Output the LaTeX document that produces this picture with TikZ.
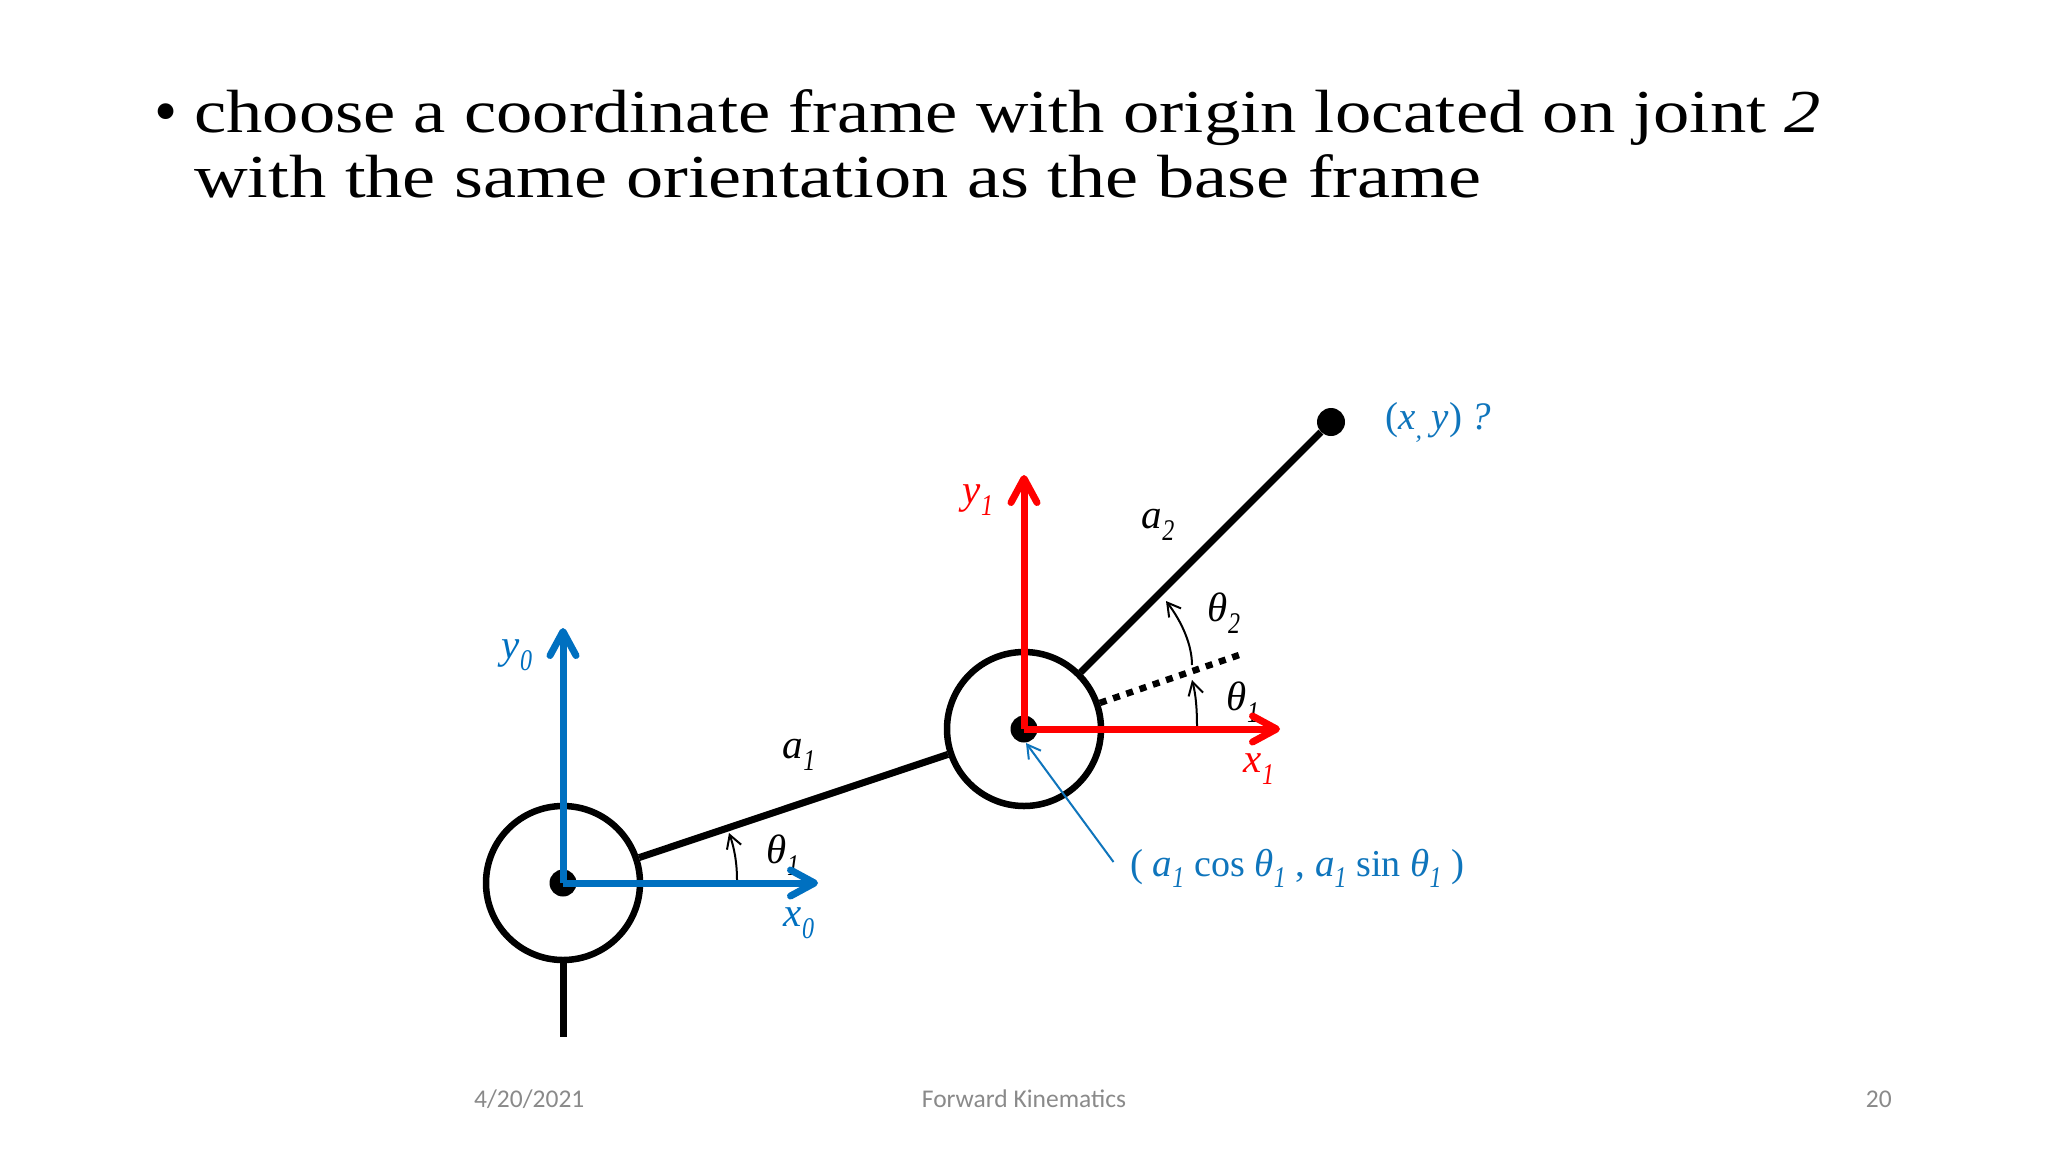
\documentclass[tikz,border=0pt]{standalone}
\usepackage{fontspec}
\usetikzlibrary{arrows.meta}
\setmainfont{Liberation Serif}
\newfontfamily\titlefonta[FakeStretch=1.19]{Liberation Serif}
\newfontfamily\titlefontb[FakeStretch=1.22]{Liberation Serif}
\newfontfamily\footfont{Carlito}
\definecolor{frameblue}{HTML}{0070C0}
\definecolor{textblue}{HTML}{0F75BC}
\definecolor{footgray}{HTML}{8A8A8A}
\newcommand{\fs}[1]{\fontsize{#1}{#1}\selectfont}
\newcommand{\sbs}[1]{\raisebox{-0.3em}{\scalebox{0.8}[1]{\fs{30}\itshape #1}}}
\tikzset{
  x=1pt,y=-1pt,
  joint/.style={circle,draw=black,line width=6.5pt,minimum size=154pt,inner sep=0pt,fill=none},
  pin/.style={circle,fill=black,minimum size=27pt,inner sep=0pt},
  link/.style={draw=black,line width=7pt},
  axisblue/.style={draw=frameblue,line width=7pt,-{Straight Barb[length=24pt,width=26pt,round]}},
  axisred/.style={draw=red,line width=7pt,-{Straight Barb[length=24pt,width=26pt,round]}},
  anglearrow/.style={draw=black,line width=2pt,-{Straight Barb[length=13pt,width=15pt]}},
  pointer/.style={draw=textblue,line width=2pt,-{Straight Barb[length=13pt,width=15pt]}},
  lab/.style={inner sep=0pt,font=\fs{41}\itshape},
  labtext/.style={inner sep=0pt,font=\fs{39}\itshape,text=textblue,anchor=base west},
  titleline/.style={inner sep=0pt,anchor=base west,font=\fs{61}},
  foot/.style={inner sep=0pt,font=\footfont\fs{25.5},text=footgray}
}
\begin{document}
\begin{tikzpicture}
\useasboundingbox (0,0) rectangle (2048,1152);
\fill[white] (0,0) rectangle (2048,1152);
% title
\node[inner sep=0pt,font=\fs{66}] (bullet) at (166,119) {\textbullet};
\node[titleline] (line1) at (194,132) {\titlefonta choose a coordinate frame with origin located on joint {\itshape 2}};
\node[titleline] (line2) at (194,197) {\titlefontb with the same orientation as the base frame};
% joints and links
\node[joint] (j0) at (563,883) {};
\node[joint] (j1) at (1024,729) {};
\node[pin] (p0) at (563,883) {};
\node[pin] (p1) at (1024,729) {};
\node[circle,fill=black,minimum size=28pt,inner sep=0pt] (tip) at (1331,422) {};
\coordinate (base) at (563,1037);
\coordinate (dotend) at (1242,654);
\draw[link] (j0) -- (base);
\draw[link] (j0) -- (j1);
\draw[link] (j1) -- (tip);
\draw[draw=black,line width=6.5pt,dash pattern=on 7pt off 7pt] (j1) -- (dotend);
% labels
\node[lab] (a1) at (799,755) {a\sbs{1}};
\node[lab] (a2) at (1158,525) {a\sbs{2}};
\node[lab] (th0) at (783,855) {θ\sbs{1}};
\node[lab] (th1) at (1243,702) {θ\sbs{1}};
\node[lab] (th2) at (1224,613) {θ\sbs{2}};
\node[lab,text=frameblue] (y0) at (517,655) {y\sbs{0}};
\node[lab,text=frameblue] (x0) at (799,923) {x\sbs{0}};
\node[lab,text=red] (y1) at (978,500) {y\sbs{1}};
\node[lab,text=red] (x1) at (1259,769) {x\sbs{1}};
\node[labtext] (xy) at (1385,429) {{\upshape(}x\raisebox{-0.25em}{\fs{26},} y{\upshape)} ?};
\node[labtext] (coord) at (1130,876) {{\upshape(} a\sbs{1} {\fs{38}\upshape cos} θ\sbs{1} {\upshape,} a\sbs{1} {\fs{38}\upshape sin} θ\sbs{1} {\upshape)}};
% angle arcs
\coordinate (arc0a) at (737,880);
\coordinate (arc0b) at (729,833);
\coordinate (arc1a) at (1197,727);
\coordinate (arc1b) at (1192,680);
\coordinate (arc2a) at (1192,665);
\coordinate (arc2b) at (1166,601);
\coordinate (ptr) at (1113.5,862);
\draw[anglearrow] (arc0a) .. controls (737,862) and (734,847) .. (arc0b);
\draw[anglearrow] (arc1a) .. controls (1197,710) and (1196,695) .. (arc1b);
\draw[anglearrow] (arc2a) .. controls (1192,645) and (1182,622) .. (arc2b);
\draw[pointer] (ptr) -- (1026,743);
% axes
\draw[axisblue] (p0.center) -- (563,628);
\draw[axisblue] (p0.center) -- (818,883);
\draw[axisred] (p1.center) -- (1024,475);
\draw[axisred] (p1.center) -- (1280,729);
% footer
\node[foot,anchor=west] (date) at (474,1099) {4/20/2021};
\node[foot] (ftitle) at (1024,1099) {Forward Kinematics};
\node[foot,anchor=east] (page) at (1892,1099) {20};
\end{tikzpicture}
\end{document}
